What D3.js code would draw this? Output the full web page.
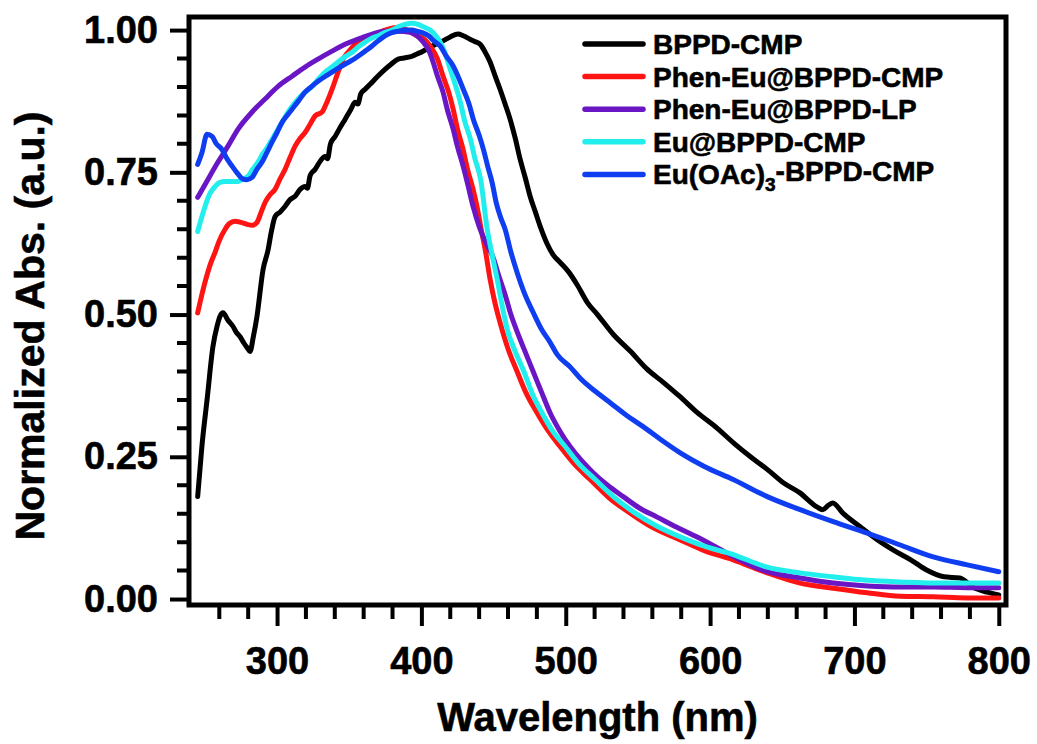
<!DOCTYPE html>
<html>
<head>
<meta charset="utf-8">
<script src="https://cdn.jsdelivr.net/npm/d3@7"></script>
<style>
    body { margin: 0; background: #fff; }
    svg { display: block; font-family: 'Liberation Sans', Arial, sans-serif; font-weight: bold; }
    svg text { stroke: #000; stroke-width: 0.6px; }
</style>
</head>
<body>
<div id="content"></div>
<script>
'use strict';

// [wavelength (nm), normalized absorbance]
var bppdCmp = [
    [245, 0.18], [248, 0.27], [251.5, 0.35], [255.6, 0.444], [258.5, 0.48], [260.5, 0.497], [262.6, 0.503],
    [266, 0.49], [269.5, 0.479], [272, 0.468], [274.4, 0.461], [277, 0.45], [279.2, 0.442], [281.3, 0.435],
    [283.5, 0.46], [286.1, 0.497], [290.3, 0.579], [293.8, 0.614], [296, 0.645], [298.6, 0.672], [302, 0.68],
    [305.5, 0.69], [309, 0.702], [312.5, 0.708], [316, 0.72], [319.4, 0.725], [321, 0.722], [323, 0.745],
    [326.3, 0.755], [330, 0.77], [333.3, 0.778], [335, 0.774], [337, 0.8], [340.2, 0.813], [344, 0.83],
    [347.1, 0.843], [351, 0.86], [354.1, 0.873], [356, 0.87], [358, 0.888], [361, 0.896], [365, 0.906],
    [367.9, 0.914], [371, 0.922], [374.8, 0.931], [379, 0.94], [383.9, 0.949], [388, 0.951], [393.6, 0.954],
    [397, 0.958], [400.5, 0.962], [404, 0.967], [410, 0.975], [415, 0.981], [420, 0.988], [425.4, 0.993],
    [429, 0.99], [433.7, 0.984], [437, 0.98], [440.7, 0.975], [444, 0.962], [447.6, 0.944], [451, 0.92],
    [454.5, 0.896], [458, 0.87], [461.5, 0.843], [465, 0.81], [468.4, 0.773], [472, 0.74], [475.3, 0.708],
    [479, 0.68], [482.3, 0.655], [487, 0.625], [491.3, 0.605], [496, 0.592], [502, 0.575], [508, 0.552],
    [515, 0.521], [522, 0.5], [533, 0.465], [545, 0.435], [556, 0.405], [568, 0.38], [579, 0.356],
    [591, 0.328], [605, 0.3], [616, 0.275], [628, 0.25], [640, 0.227], [651, 0.204], [662, 0.187],
    [674, 0.162], [678, 0.157], [682, 0.165], [685, 0.169], [692, 0.151], [704, 0.127], [716, 0.104],
    [727, 0.086], [739, 0.069], [750, 0.051], [762, 0.039], [773, 0.037], [782, 0.021], [792, 0.012],
    [800, 0.007]
];

var phenEuCmp = [
    [245, 0.503], [250, 0.556], [254, 0.59], [257, 0.609], [260, 0.63], [264, 0.65], [267, 0.66],
    [270.9, 0.664], [275, 0.662], [279.9, 0.658], [283, 0.657], [286.1, 0.662], [289, 0.68], [291.7, 0.697],
    [295, 0.71], [298.6, 0.72], [302, 0.738], [305.5, 0.755], [309, 0.776], [312.5, 0.796], [316, 0.81],
    [319.4, 0.82], [323, 0.835], [326.3, 0.849], [331.2, 0.856], [334, 0.87], [338.1, 0.896], [342.3, 0.926],
    [346, 0.95], [349.2, 0.961], [356.1, 0.979], [365.8, 0.99], [374.8, 1.0], [383.9, 1.005], [390, 1.0],
    [397, 0.99], [402, 0.984], [406, 0.972], [411, 0.95], [415, 0.919], [419, 0.89], [422, 0.861],
    [425, 0.826], [428.9, 0.79], [432, 0.755], [435.8, 0.72], [438.5, 0.69], [441.4, 0.65], [444.5, 0.61],
    [447.6, 0.562], [451, 0.52], [454.5, 0.486], [460, 0.44], [466.3, 0.4], [472, 0.365], [480.2, 0.327],
    [488, 0.295], [496.1, 0.268], [506, 0.237], [516.9, 0.21], [530, 0.178], [544.6, 0.151], [560, 0.126],
    [579.3, 0.104], [596, 0.085], [616, 0.069], [639.6, 0.046], [662.4, 0.028], [685.3, 0.019],
    [708.9, 0.011], [731.7, 0.005], [754.6, 0.004], [778.2, 0.002], [800, 0.002]
];

var phenEuLp = [
    [245, 0.706], [252.2, 0.738], [259.1, 0.768], [266, 0.796], [273, 0.826], [282.7, 0.856],
    [291.7, 0.879], [300.7, 0.901], [310.4, 0.919], [319.4, 0.935], [328.4, 0.949], [338.1, 0.963],
    [347.1, 0.975], [356.1, 0.984], [365.8, 0.993], [374.8, 0.998], [383.9, 0.998], [392.2, 0.996],
    [397, 0.99], [401.2, 0.979], [405, 0.965], [408.1, 0.944], [411, 0.92], [415, 0.891], [418, 0.86],
    [422, 0.826], [425, 0.795], [428.9, 0.761], [432, 0.73], [435.8, 0.69], [440, 0.655], [444, 0.63],
    [449.7, 0.6], [454, 0.565], [458, 0.535], [462, 0.5], [466.3, 0.47], [471, 0.44], [477.4, 0.4],
    [483, 0.365], [489.2, 0.327], [496, 0.295], [503, 0.268], [511, 0.243], [519, 0.222], [529, 0.2],
    [539.8, 0.18], [551, 0.16], [563.3, 0.144], [577, 0.126], [591, 0.109], [603, 0.093], [616, 0.075],
    [639.6, 0.048], [662.4, 0.037], [685.3, 0.028], [708.9, 0.023], [731.7, 0.021], [754.6, 0.021],
    [778, 0.02], [800, 0.02]
];

var euCmp = [
    [245, 0.646], [250.1, 0.69], [253, 0.71], [257, 0.725], [260, 0.732], [264, 0.734], [268, 0.734],
    [273, 0.734], [276, 0.738], [279.9, 0.743], [283, 0.755], [286.8, 0.768], [290, 0.782], [293.8, 0.796],
    [297, 0.81], [300.7, 0.826], [304, 0.84], [307.6, 0.856], [311, 0.868], [314.6, 0.879], [319, 0.89],
    [324.3, 0.901], [329, 0.915], [333.3, 0.926], [338, 0.935], [342.3, 0.944], [347, 0.953], [352, 0.961],
    [356, 0.97], [361, 0.979], [365, 0.985], [370, 0.99], [375, 0.996], [379.7, 1.0], [384, 1.006],
    [388.7, 1.01], [393, 1.012], [397.7, 1.01], [402, 1.005], [406, 1.0], [410, 0.99], [413, 0.979],
    [417, 0.955], [420, 0.931], [424, 0.9], [427, 0.873], [430, 0.84], [434, 0.808], [437, 0.775],
    [441, 0.738], [445.6, 0.65], [449, 0.605], [452.5, 0.562], [456, 0.515], [459.4, 0.475], [465, 0.435],
    [471, 0.4], [477, 0.36], [483.6, 0.327], [491, 0.295], [499.6, 0.268], [509, 0.238], [520.4, 0.21],
    [533, 0.18], [548.1, 0.151], [564, 0.127], [581.4, 0.107], [597, 0.092], [614, 0.08], [639.6, 0.056],
    [662.4, 0.046], [685.3, 0.039], [708.9, 0.033], [731.7, 0.03], [754.6, 0.028], [778, 0.028],
    [800, 0.028]
];

var euOAcCmp = [
    [245, 0.764], [248, 0.785], [251.5, 0.817], [255, 0.813], [258, 0.8], [261.9, 0.79], [265, 0.775],
    [268.8, 0.761], [272, 0.75], [276.4, 0.738], [279, 0.737], [282.7, 0.741], [286, 0.755], [289.6, 0.768],
    [293, 0.785], [296.5, 0.803], [300, 0.82], [303.5, 0.838], [307, 0.85], [310.4, 0.861], [315, 0.876],
    [319.4, 0.891], [324, 0.901], [328.4, 0.91], [333, 0.918], [338.1, 0.926], [343, 0.934], [347.1, 0.94],
    [352, 0.947], [356.1, 0.954], [361, 0.963], [365.8, 0.972], [370, 0.981], [374.8, 0.99], [379, 0.995],
    [383.9, 0.998], [388, 1.0], [393.6, 1.0], [397, 0.998], [401, 0.995], [405, 0.99], [409, 0.98],
    [413, 0.972], [417, 0.955], [422, 0.937], [426, 0.915], [429, 0.896], [433, 0.87], [436, 0.843],
    [440, 0.815], [443, 0.79], [446, 0.76], [449, 0.732], [452, 0.695], [455, 0.67], [458, 0.65],
    [462, 0.61], [466.3, 0.574], [471, 0.54], [477.4, 0.504], [483, 0.475], [489.2, 0.451], [494, 0.43],
    [503, 0.408], [510, 0.388], [520, 0.366], [530.8, 0.345], [542, 0.323], [553.6, 0.303], [566, 0.28],
    [579.3, 0.257], [596, 0.233], [616, 0.21], [639.6, 0.18], [662.4, 0.157], [685.3, 0.136],
    [708.9, 0.116], [731.7, 0.095], [754.6, 0.074], [778.2, 0.06], [800, 0.048]
];

var seriesNames = ['BPPD-CMP', 'Phen-Eu@BPPD-CMP', 'Phen-Eu@BPPD-LP', 'Eu@BPPD-CMP', 'Eu(OAc)3-BPPD-CMP'];
var seriesValues = [bppdCmp, phenEuCmp, phenEuLp, euCmp, euOAcCmp];
var seriesColors = ['#000000', '#ff1414', '#6a16c4', '#22eeee', '#0f3ef0'];

var xTicks = [300, 400, 500, 600, 700, 800];
var xMinorTicks = [260, 280, 320, 340, 360, 380, 420, 440, 460, 480, 520, 540, 560, 580,
    620, 640, 660, 680, 720, 740, 760, 780];
var yTicks = [0, 0.25, 0.5, 0.75, 1.0];
var yMinorTicks = [0.05, 0.1, 0.15, 0.2, 0.3, 0.35, 0.4, 0.45, 0.55, 0.6, 0.65, 0.7, 0.8, 0.85, 0.9, 0.95];

var xTitle = 'Wavelength (nm)';
var yTitle = 'Normalized Abs. (a.u.)';

function run() {
    var width = 1037, height = 744;
    var margin = { top: 17, left: 189, right: 31, bottom: 139 };
    var w = width - margin.left - margin.right;
    var h = height - margin.top - margin.bottom;

    var svg = d3.select('#content')
        .append('svg')
        .attr('width', width)
        .attr('height', height);

    var chart = svg.append('g')
        .attr('transform', 'translate(' + margin.left + ' ' + margin.top + ')');

    var x = d3.scaleLinear()
        .domain([239, 805])
        .range([0, w]);

    var y = d3.scaleLinear()
        .domain([-0.0105, 1.023])
        .range([h, 0]);

    var line = d3.line()
        .x(function (d) { return x(d[0]); })
        .y(function (d) { return y(d[1]); })
        .curve(d3.curveMonotoneX);

    chart.append('defs').append('clipPath')
        .attr('id', 'plot-clip')
        .append('rect')
        .attr('width', w)
        .attr('height', h);

    chart.append('g')
        .attr('clip-path', 'url(#plot-clip)')
        .selectAll('path')
        .data(seriesValues)
        .enter()
        .append('path')
        .attr('d', line)
        .attr('fill', 'none')
        .attr('stroke', function (d, i) { return seriesColors[i]; })
        .attr('stroke-width', 5)
        .attr('stroke-linejoin', 'round')
        .attr('stroke-linecap', 'round');

    // minor ticks as one path, positions from the scales
    var minor = d3.path();
    xMinorTicks.forEach(function (d) {
        minor.moveTo(x(d), h);
        minor.lineTo(x(d), h + 14);
    });
    yMinorTicks.forEach(function (d) {
        minor.moveTo(0, y(d));
        minor.lineTo(-12, y(d));
    });
    chart.append('path')
        .attr('class', 'minor-ticks')
        .attr('d', minor.toString())
        .attr('fill', 'none')
        .style('stroke', '#000')
        .style('stroke-width', '4px');

    var xAxis = chart.append('g')
        .attr('transform', 'translate(0 ' + h + ')')
        .call(d3.axisBottom(x).tickValues(xTicks).tickSize(21).tickPadding(21).tickFormat(d3.format('d')));

    var yAxis = chart.append('g')
        .call(d3.axisLeft(y).tickValues(yTicks).tickSize(19).tickPadding(12).tickFormat(d3.format('.2f')));

    [xAxis, yAxis].forEach(function (axis) {
        axis.select('.domain').remove();
        axis.selectAll('.tick line')
            .attr('stroke', '#000')
            .attr('stroke-width', 4);
        axis.selectAll('.tick text')
            .attr('fill', '#000')
            .style('font-family', "'Liberation Sans', Arial, sans-serif")
            .style('font-weight', 'bold')
            .style('font-size', '38px');
    });

    chart.append('rect')
        .attr('width', w)
        .attr('height', h)
        .attr('fill', 'none')
        .attr('stroke', '#000')
        .attr('stroke-width', 5);

    svg.append('text')
        .attr('x', margin.left + w / 2)
        .attr('y', 731)
        .attr('text-anchor', 'middle')
        .style('font-size', '40px')
        .text(xTitle);

    svg.append('text')
        .attr('transform', 'translate(44 326) rotate(-90)')
        .attr('text-anchor', 'middle')
        .style('font-size', '41px')
        .text(yTitle);

    var legend = svg.append('g')
        .attr('transform', 'translate(585 44)');

    var row = legend.selectAll('.row')
        .data(seriesNames)
        .enter()
        .append('g')
        .attr('class', 'row')
        .attr('transform', function (d, i) { return 'translate(0 ' + (i * 32.6) + ')'; });

    row.append('line')
        .attr('x1', 0)
        .attr('x2', 58)
        .attr('stroke', function (d, i) { return seriesColors[i]; })
        .attr('stroke-width', 5.5)
        .attr('stroke-linecap', 'round');

    var label = row.append('text')
        .attr('x', 68)
        .attr('dy', '0.36em')
        .style('font-size', '28px');

    label.each(function (d) {
        var t = d3.select(this);
        var m = d.match(/^(.*\))(\d)(-.*)$/);
        if (m) {
            t.append('tspan').text(m[1]);
            t.append('tspan')
                .attr('dy', '0.35em')
                .style('font-size', '19px')
                .text(m[2]);
            t.append('tspan')
                .attr('dy', '-0.35em')
                .text(m[3]);
        } else {
            t.text(d);
        }
    });
}

document.addEventListener('DOMContentLoaded', run);
</script>
</body>
</html>
